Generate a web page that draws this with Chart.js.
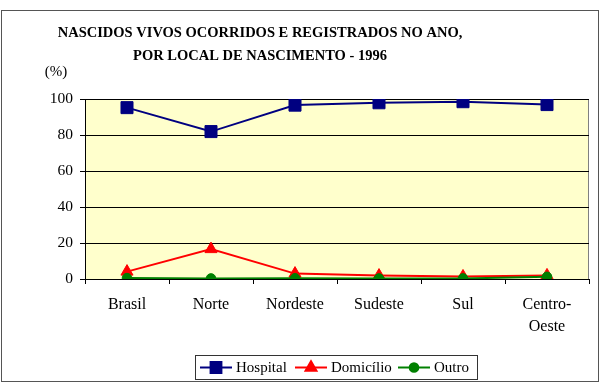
<!DOCTYPE html>
<html lang="pt">
<head>
<meta charset="UTF-8">
<title>Nascidos vivos por local de nascimento - 1996</title>
<script src="https://cdn.jsdelivr.net/npm/chart.js"></script>
<style>
  html, body { margin: 0; padding: 0; background: #fff; }
  #wrap { width: 601px; height: 383px; }
</style>
</head>
<body>
<div id="wrap"><canvas id="chart" width="601" height="383"></canvas></div>
<script>
// dados
const categories = ["Brasil", "Norte", "Nordeste", "Sudeste", "Sul", ["Centro-", "Oeste"]];
const hospital = [95.2, 81.9, 96.6, 97.9, 98.5, 96.9];
const domicilio = [4.1, 16.6, 3.0, 1.9, 1.4, 2.0];
const outro = [0.5, 0.3, 0.4, 0.3, 0.3, 1.2];
const yTicks = [0, 20, 40, 60, 80, 100];
const titleLines = ["NASCIDOS VIVOS OCORRIDOS E REGISTRADOS NO ANO,", "POR LOCAL DE NASCIMENTO - 1996"];
const unitLabel = "(%)";

const serif = "'Liberation Serif', 'Times New Roman', serif";

const series = [
  { label: "Hospital", data: hospital, color: "#000080", style: "rect", radius: 8.5, order: 2 },
  { label: "Domicílio", data: domicilio, color: "#FF0000", style: "triangle", radius: 7, order: 1 },
  { label: "Outro", data: outro, color: "#008000", style: "circle", radius: 4.8, order: 0 },
];

// fundo da área do gráfico, moldura, título e legenda
const decor = {
  id: "decor",
  beforeDraw(chart) {
    const { ctx, chartArea: a } = chart;
    ctx.save();
    ctx.fillStyle = "#fff";
    ctx.fillRect(0, 0, chart.width, chart.height);
    ctx.fillStyle = "#FFFFCC";
    ctx.fillRect(a.left, a.top, a.right - a.left, a.bottom - a.top);
    ctx.strokeStyle = "#808080";
    ctx.lineWidth = 1;
    ctx.beginPath();
    ctx.moveTo(a.right - 0.5, a.top);
    ctx.lineTo(a.right - 0.5, a.bottom);
    ctx.stroke();
    ctx.restore();
  },
  afterDraw(chart) {
    const ctx = chart.ctx;
    ctx.save();
    // moldura externa
    ctx.strokeStyle = "#555";
    ctx.lineWidth = 1;
    ctx.strokeRect(1.5, 10.5, 597, 371);

    // título
    ctx.fillStyle = "#000";
    ctx.textAlign = "center";
    ctx.textBaseline = "alphabetic";
    ctx.font = "bold 14.5px " + serif;
    ctx.fillText(titleLines[0], 260, 37);
    ctx.fillText(titleLines[1], 260, 60);

    ctx.font = "15px " + serif;
    ctx.fillText(unitLabel, 56, 76);

    // legenda
    ctx.strokeStyle = "#333";
    ctx.strokeRect(195.5, 355.5, 282, 24);
    const starts = [200, 295, 398];
    ctx.font = "15px " + serif;
    ctx.textAlign = "left";
    ctx.textBaseline = "middle";
    series.forEach((s, i) => {
      const x0 = starts[i];
      const y = 367.5;
      ctx.strokeStyle = s.color;
      ctx.lineWidth = 2;
      ctx.beginPath();
      ctx.moveTo(x0, y);
      ctx.lineTo(x0 + 32, y);
      ctx.stroke();
      ctx.fillStyle = s.color;
      Chart.helpers.drawPoint(ctx, { pointStyle: s.style, rotation: 0, radius: s.radius * 0.9, borderWidth: 1 }, x0 + 16, y);
      ctx.fillStyle = "#000";
      ctx.fillText(s.label, x0 + 36, y + 1);
    });
    ctx.restore();
  }
};

new Chart(document.getElementById("chart"), {
  type: "line",
  data: {
    labels: categories,
    datasets: series.map(s => ({
      label: s.label,
      data: s.data,
      borderColor: s.color,
      backgroundColor: s.color,
      borderWidth: 2,
      pointStyle: s.style,
      pointRadius: s.radius,
      pointBorderWidth: 1,
      pointBorderColor: s.color,
      pointBackgroundColor: s.color,
      tension: 0,
      fill: false,
      order: s.order,
    })),
  },
  options: {
    responsive: false,
    animation: false,
    events: [],
    layout: { padding: { top: 99, right: 12, left: 0, bottom: 0 } },
    plugins: {
      legend: { display: false },
      title: { display: false },
      tooltip: { enabled: false },
    },
    scales: {
      x: {
        offset: true,
        afterFit(scale) { scale.height = 104; },
        grid: {
          offset: true,
          drawOnChartArea: false,
          drawTicks: true,
          tickLength: 5,
          color: "#000",
        },
        border: { color: "#000", width: 1 },
        ticks: {
          color: "#000",
          padding: 10,
          maxRotation: 0,
          autoSkip: false,
          font: { family: serif, size: 16, lineHeight: 1.35 },
        },
      },
      y: {
        min: 0,
        max: 100,
        afterFit(scale) { scale.width = 85; },
        afterBuildTicks(scale) { scale.ticks = yTicks.map(v => ({ value: v })); },
        grid: {
          color: "#000",
          lineWidth: 1,
          drawTicks: true,
          tickLength: 5,
        },
        border: { color: "#000", width: 1 },
        ticks: {
          color: "#000",
          padding: 7,
          font: { family: serif, size: 15.5 },
        },
      },
    },
  },
  plugins: [decor],
});
</script>
</body>
</html>
